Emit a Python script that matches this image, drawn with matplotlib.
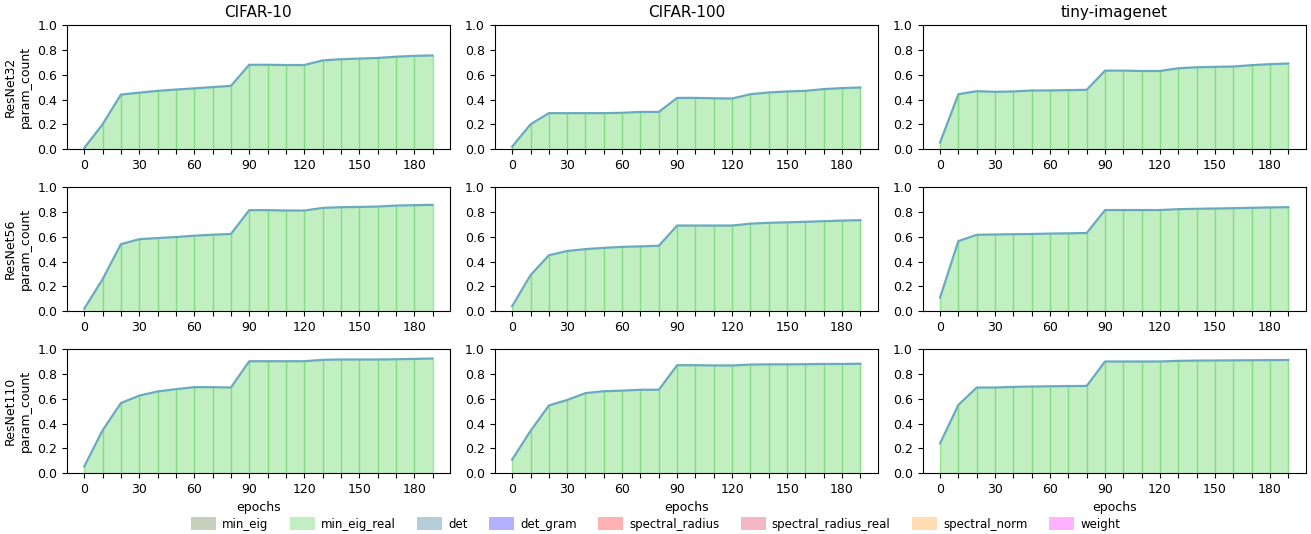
import numpy as np
import matplotlib.pyplot as plt
import matplotlib.patches as mpatches

# Fraction of parameters selected per epoch, one curve per model / dataset
epochs = np.arange(0, 200, 10)
datasets = ['CIFAR-10', 'CIFAR-100', 'tiny-imagenet']
models = ['ResNet32', 'ResNet56', 'ResNet110']
methods = ['min_eig', 'min_eig_real', 'det', 'det_gram', 'spectral_radius',
           'spectral_radius_real', 'spectral_norm', 'weight']
colors = ['#486226', 'limegreen', '#055f84', 'blue', 'red',
          'crimson', 'darkorange', 'magenta']

r32_c10 = [0.01, 0.20, 0.44, 0.455, 0.47, 0.48, 0.49, 0.50, 0.51, 0.68,
           0.68, 0.678, 0.678, 0.715, 0.725, 0.73, 0.735, 0.745, 0.752, 0.755]
r32_c100 = [0.02, 0.20, 0.29, 0.29, 0.29, 0.29, 0.293, 0.30, 0.30, 0.413,
            0.413, 0.41, 0.408, 0.443, 0.457, 0.465, 0.47, 0.484, 0.492, 0.497]
r32_tiny = [0.054, 0.443, 0.467, 0.462, 0.465, 0.473, 0.473, 0.476, 0.478, 0.633,
            0.633, 0.63, 0.63, 0.652, 0.66, 0.663, 0.666, 0.677, 0.685, 0.69]
r56_c10 = [0.02, 0.257, 0.54, 0.58, 0.589, 0.597, 0.608, 0.616, 0.622, 0.814,
           0.814, 0.811, 0.811, 0.832, 0.838, 0.84, 0.843, 0.851, 0.854, 0.857]
r56_c100 = [0.04, 0.29, 0.45, 0.485, 0.50, 0.51, 0.518, 0.522, 0.527, 0.69,
            0.69, 0.69, 0.69, 0.705, 0.712, 0.716, 0.72, 0.725, 0.73, 0.733]
r56_tiny = [0.11, 0.565, 0.615, 0.618, 0.62, 0.622, 0.625, 0.627, 0.63, 0.815,
            0.815, 0.815, 0.815, 0.822, 0.825, 0.827, 0.83, 0.833, 0.836, 0.838]
r110_c10 = [0.054, 0.345, 0.565, 0.625, 0.658, 0.677, 0.693, 0.693, 0.69, 0.902,
            0.902, 0.902, 0.902, 0.913, 0.916, 0.916, 0.916, 0.918, 0.921, 0.924]
r110_c100 = [0.11, 0.34, 0.545, 0.59, 0.645, 0.66, 0.665, 0.672, 0.672, 0.87,
             0.87, 0.868, 0.868, 0.875, 0.877, 0.877, 0.878, 0.88, 0.88, 0.882]
r110_tiny = [0.24, 0.55, 0.69, 0.69, 0.695, 0.698, 0.70, 0.702, 0.703, 0.90,
             0.90, 0.90, 0.90, 0.905, 0.907, 0.908, 0.909, 0.91, 0.911, 0.912]

grid = [[r32_c10, r32_c100, r32_tiny],
        [r56_c10, r56_c100, r56_tiny],
        [r110_c10, r110_c100, r110_tiny]]

plt.rcParams['font.size'] = 9

fig, axes = plt.subplots(3, 3, figsize=(13.11, 5.34), dpi=100)
fig.subplots_adjust(left=0.051, right=0.996, top=0.953, bottom=0.114,
                    wspace=0.117, hspace=0.306)

for i, model in enumerate(models):
    for j, dataset in enumerate(datasets):
        ax = axes[i, j]
        y = np.array(grid[i][j])
        # only min_eig_real is non-zero, the rest stack on top with zero height
        ax.fill_between(epochs, 0, y, color='limegreen', alpha=0.3, lw=0)
        ax.vlines(epochs, 0, y, color='limegreen', alpha=0.45, lw=1)
        ax.plot(epochs, y, color='#6aaabe', lw=1.6)
        ax.set_ylim(0, 1)
        ax.set_xticks(epochs)
        ax.set_xticklabels([str(e) if e % 30 == 0 else '' for e in epochs])
        ax.set_yticks(np.arange(0, 1.01, 0.2))
        ax.tick_params(labelsize=9)
        if i == 0:
            ax.set_title(dataset, fontsize=11)
        if j == 0:
            ax.set_ylabel(model + '\nparam_count', fontsize=9)
        if i == 2:
            ax.set_xlabel('epochs', fontsize=9)

handles = [mpatches.Patch(facecolor=c, edgecolor='none', alpha=0.3, label=m)
           for m, c in zip(methods, colors)]
fig.legend(handles=handles, loc='lower center', ncol=8, frameon=False,
           bbox_to_anchor=(0.5, -0.014), fontsize=8.5, handlelength=2.1,
           handleheight=1.3, handletextpad=0.5, columnspacing=1.85)

plt.savefig('out.png', dpi=100)
